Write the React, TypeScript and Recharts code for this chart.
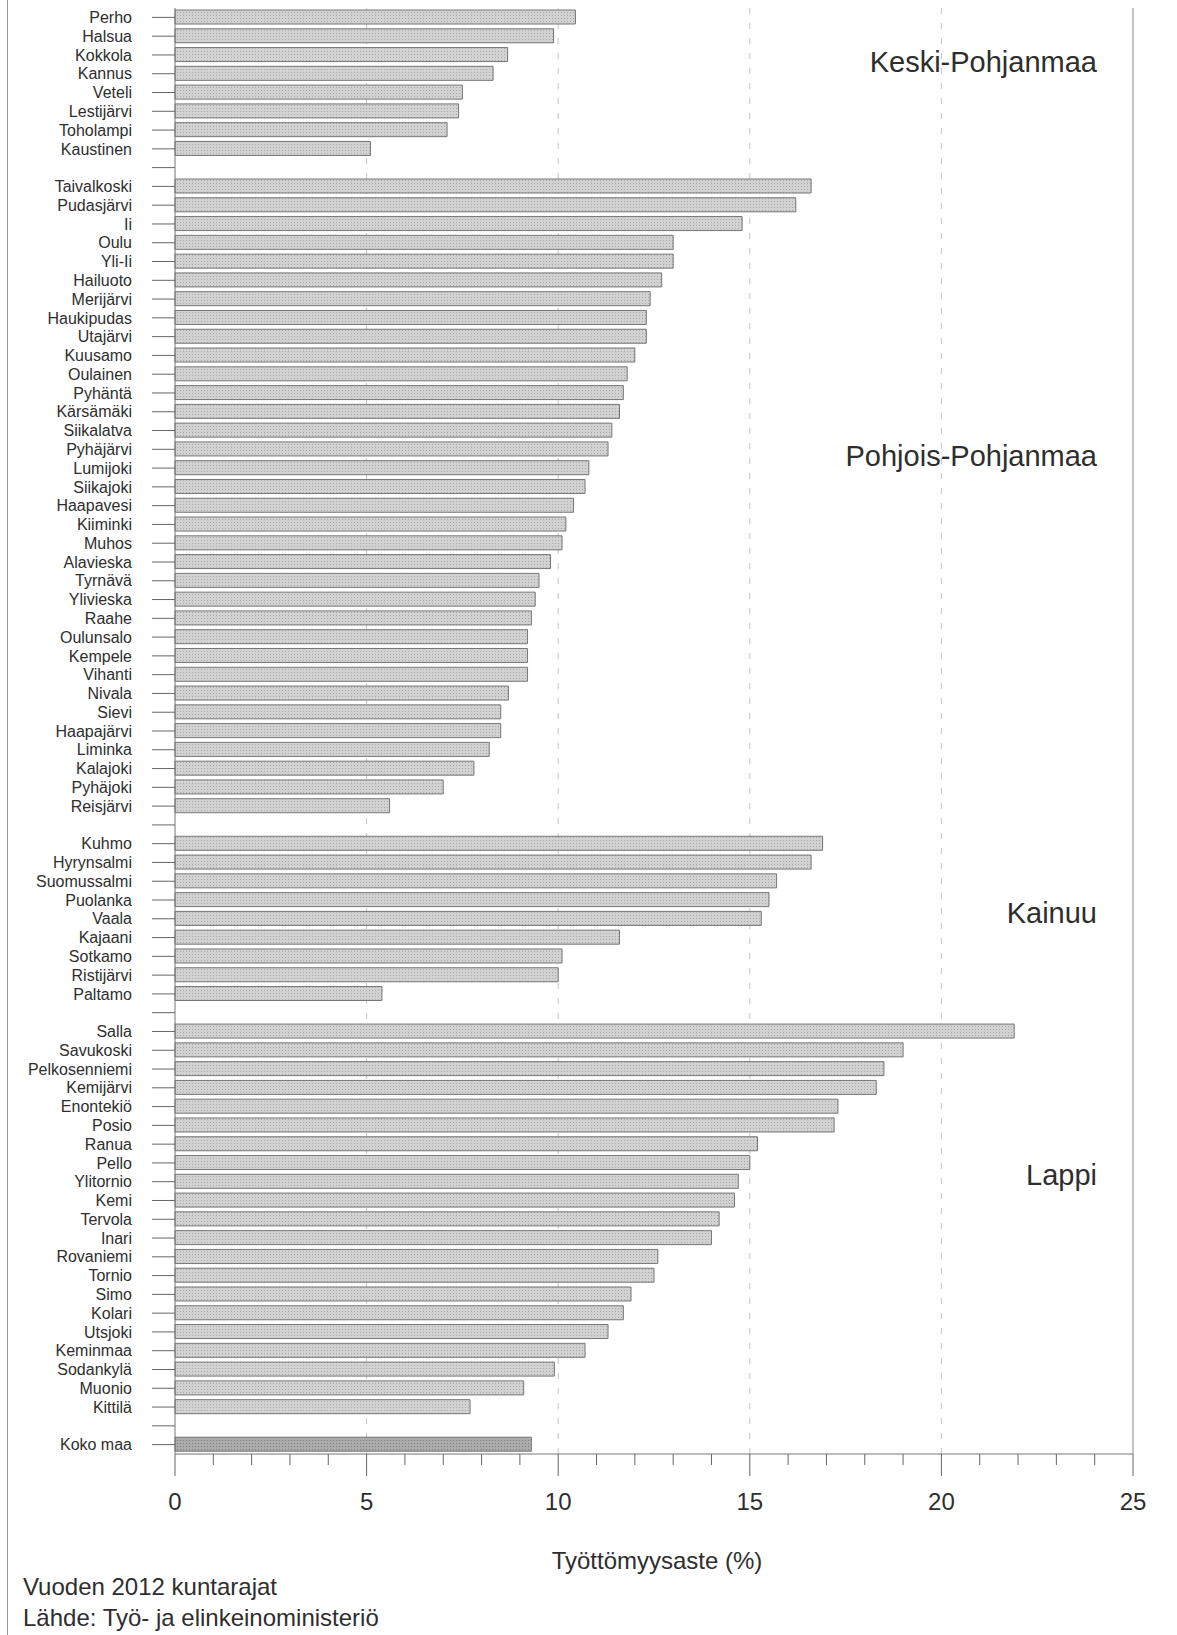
import {
  BarChart,
  Bar,
  XAxis,
  YAxis,
  CartesianGrid,
  ReferenceLine,
  Cell,
} from "recharts";

// --- DATA: työttömyysaste (%) kunnittain ---
const keskiNames = ["Perho", "Halsua", "Kokkola", "Kannus", "Veteli", "Lestijärvi", "Toholampi", "Kaustinen"];
const keskiValues = [10.45, 9.88, 8.68, 8.3, 7.5, 7.4, 7.1, 5.1];

const pohjoisNames = [
  "Taivalkoski", "Pudasjärvi", "Ii", "Oulu", "Yli-Ii", "Hailuoto", "Merijärvi", "Haukipudas",
  "Utajärvi", "Kuusamo", "Oulainen", "Pyhäntä", "Kärsämäki", "Siikalatva", "Pyhäjärvi", "Lumijoki",
  "Siikajoki", "Haapavesi", "Kiiminki", "Muhos", "Alavieska", "Tyrnävä", "Ylivieska", "Raahe",
  "Oulunsalo", "Kempele", "Vihanti", "Nivala", "Sievi", "Haapajärvi", "Liminka", "Kalajoki",
  "Pyhäjoki", "Reisjärvi",
];
const pohjoisValues = [
  16.6, 16.2, 14.8, 13.0, 13.0, 12.7, 12.4, 12.3,
  12.3, 12.0, 11.8, 11.7, 11.6, 11.4, 11.3, 10.8,
  10.7, 10.4, 10.2, 10.1, 9.8, 9.5, 9.4, 9.3,
  9.2, 9.2, 9.2, 8.7, 8.5, 8.5, 8.2, 7.8,
  7.0, 5.6,
];

const kainuuNames = ["Kuhmo", "Hyrynsalmi", "Suomussalmi", "Puolanka", "Vaala", "Kajaani", "Sotkamo", "Ristijärvi", "Paltamo"];
const kainuuValues = [16.9, 16.6, 15.7, 15.5, 15.3, 11.6, 10.1, 10.0, 5.4];

const lappiNames = [
  "Salla", "Savukoski", "Pelkosenniemi", "Kemijärvi", "Enontekiö", "Posio", "Ranua", "Pello",
  "Ylitornio", "Kemi", "Tervola", "Inari", "Rovaniemi", "Tornio", "Simo", "Kolari",
  "Utsjoki", "Keminmaa", "Sodankylä", "Muonio", "Kittilä",
];
const lappiValues = [
  21.9, 19.0, 18.5, 18.3, 17.3, 17.2, 15.2, 15.0,
  14.7, 14.6, 14.2, 14.0, 12.6, 12.5, 11.9, 11.7,
  11.3, 10.7, 9.9, 9.1, 7.7,
];

const countryName = "Koko maa";
const countryValue = 9.3;

const regionLabels = ["Keski-Pohjanmaa", "Pohjois-Pohjanmaa", "Kainuu", "Lappi"];
const xTicks = Array.from({ length: 26 }, (_, i) => i);
const gridValues = [5, 10, 15, 20];

// rivit: ryhmien väliin tyhjä rivi
type Row = { name: string; value: number | null; total?: boolean };
const groups: [string[], number[]][] = [
  [keskiNames, keskiValues],
  [pohjoisNames, pohjoisValues],
  [kainuuNames, kainuuValues],
  [lappiNames, lappiValues],
];
const rows: Row[] = [];
groups.forEach(([names, values], gi) => {
  names.forEach((n, i) => rows.push({ name: n, value: values[i] }));
  rows.push({ name: `gap${gi}`, value: null });
});
rows.push({ name: countryName, value: countryValue, total: true });

const FONT = "'Liberation Sans', Arial, Helvetica, sans-serif";
const TEXT = "#2e2e2e";

const XTick = ({ x, y, payload }: any) => {
  const v = payload.value;
  const major = v % 5 === 0;
  return (
    <g>
      <line x1={x} x2={x} y1={y} y2={y + (major ? 22 : 11)} stroke="#666" />
      {major && (
        <text x={x} y={y + 56} textAnchor="middle" fontSize={24} fill={TEXT} fontFamily={FONT}>
          {v}
        </text>
      )}
    </g>
  );
};

// sijainnit alueiden nimille (oikea reuna, pystykeskikohta)
const regionPos = [63, 457, 914, 1176];

export default function App() {
  return (
    <div style={{ position: "relative", width: 1177, height: 1635, fontFamily: FONT, background: "#fff" }}>
      <style>{`body{margin:0}`}</style>
      <div style={{ position: "absolute", left: 7, top: 0, width: 0, height: 1635, borderLeft: "1px solid #999" }} />
      <BarChart
        width={1177}
        height={1635}
        data={rows}
        layout="vertical"
        margin={{ top: 8, right: 44, bottom: 121, left: 0 }}
        barSize={14}
      >
        <defs>
          <pattern id="dotsLight" width="3" height="3" patternUnits="userSpaceOnUse">
            <rect width="3" height="3" fill="#d2d2d2" />
            <rect width="1" height="1" fill="#a9a9a9" />
          </pattern>
          <pattern id="dotsDark" width="3" height="3" patternUnits="userSpaceOnUse">
            <rect width="3" height="3" fill="#ababab" />
            <rect width="1" height="1" fill="#808080" />
          </pattern>
        </defs>
        <CartesianGrid
          horizontal={false}
          verticalValues={gridValues}
          stroke="#c4c4c4"
          strokeDasharray="6 9"
        />
        <XAxis
          type="number"
          domain={[0, 25]}
          ticks={xTicks}
          interval={0}
          tickSize={0}
          tickMargin={0}
          tickLine={false}
          tick={<XTick />}
          axisLine={{ stroke: "#777" }}
          height={60}
        />
        <XAxis
          xAxisId="top"
          orientation="top"
          type="number"
          domain={[0, 25]}
          ticks={[]}
          tick={false}
          tickLine={false}
          height={0}
          axisLine={{ stroke: "#888" }}
        />
        <YAxis
          type="category"
          dataKey="name"
          width={175}
          interval={0}
          tickSize={23}
          tickMargin={20}
          tickLine={{ stroke: "#666" }}
          axisLine={{ stroke: "#777" }}
          tick={{ fontSize: 16, fill: TEXT, fontFamily: FONT }}
          tickFormatter={(v: string) => (v.startsWith("gap") ? "" : v)}
        />
        <ReferenceLine x={25} stroke="#888" />
        <Bar dataKey="value" stroke="#767676" strokeWidth={1} isAnimationActive={false}>
          {rows.map((r) => (
            <Cell key={r.name} fill={r.total ? "url(#dotsDark)" : "url(#dotsLight)"} />
          ))}
        </Bar>
      </BarChart>

      {regionLabels.map((label, i) => (
        <div
          key={label}
          style={{
            position: "absolute",
            right: 1177 - 1097,
            top: regionPos[i] - 15,
            fontSize: 29,
            lineHeight: "29px",
            color: TEXT,
            whiteSpace: "nowrap",
          }}
        >
          {label}
        </div>
      ))}

      <div style={{ position: "absolute", left: 457, width: 400, top: 1547, textAlign: "center", fontSize: 24, lineHeight: "28px", color: TEXT }}>
        Työttömyysaste (%)
      </div>
      <div style={{ position: "absolute", left: 23, top: 1573, fontSize: 24, lineHeight: "28px", color: TEXT }}>
        Vuoden 2012 kuntarajat
      </div>
      <div style={{ position: "absolute", left: 23, top: 1604, fontSize: 24, lineHeight: "28px", color: TEXT }}>
        Lähde: Työ- ja elinkeinoministeriö
      </div>
    </div>
  );
}
